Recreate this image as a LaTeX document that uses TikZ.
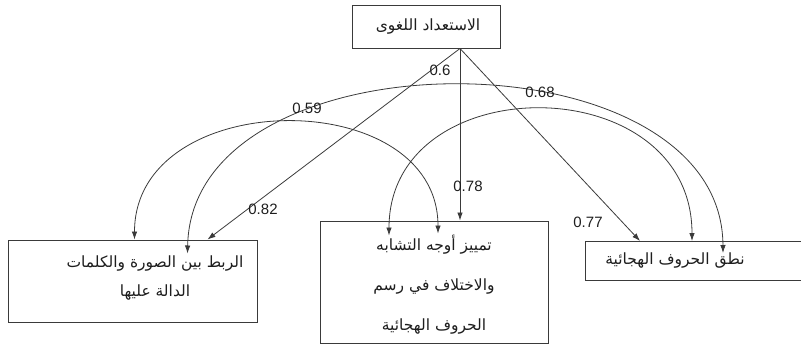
\documentclass[tikz,border=0pt]{standalone}
\usepackage{fontspec}
\setmainfont{Liberation Sans}
\newfontfamily\arabicfont[Script=Arabic]{DejaVu Sans}
\TeXXeTstate=1
\usepackage{xcolor}
\usetikzlibrary{arrows.meta,calc}

\definecolor{linegray}{HTML}{3A3A3A}
\definecolor{inkgray}{HTML}{1E1E1E}

\tikzset{
  box/.style={draw=linegray, line width=1pt, inner sep=0pt},
  artext/.style={font=\arabicfont\fontsize{15.5}{29}\selectfont, text=inkgray, align=center, inner sep=0pt},
  coef/.style={font=\fontsize{15}{17}\selectfont, text=inkgray, inner sep=0pt},
  effect/.style={draw=linegray, line width=0.8pt, -{Latex[length=8pt,width=5.5pt]}},
  corr/.style={draw=linegray, line width=0.8pt, {Latex[length=8pt,width=5.5pt]}-{Latex[length=8pt,width=5.5pt]}},
}

\begin{document}
\begin{tikzpicture}[x=1pt,y=-1pt]
\useasboundingbox (0,0) rectangle (801,346);

% latent factor on top
\node[box, minimum width=148pt, minimum height=43pt] (top) at (426,26.5) {};
\node[artext] (toptxt) at (428,27) {\beginR الاستعداد اللغوى\endR};
\coordinate (src) at ([xshift=34pt]top.south);

% the three indicators
\node[box, minimum width=249pt, minimum height=82pt] (lft) at (132.5,281) {};
\node[artext] (lfttxt) at (155,277.5)
  {\beginR الربط بين الصورة والكلمات\endR\\\beginR الدالة عليها\endR};

\node[box, minimum width=228pt, minimum height=122pt] (mid) at (434,282) {};
\node[artext, font=\arabicfont\fontsize{15.5}{40}\selectfont] (midtxt) at (434,285)
  {\beginR تمييز أوجه التشابه\endR\\\beginR والاختلاف في رسم\endR\\\beginR الحروف الهجائية\endR};

% right box runs off the page edge
\coordinate (rtop) at (585,241);
\draw[linegray, line width=1pt] (801,241) -| (585,280) -- (801,280);
\node[artext] (rgt) at (675,261) {\beginR نطق الحروف الهجائية\endR};

% loadings
\draw[effect] (src) -- ([xshift=-50pt]lft.north east);
\draw[effect] (src) -- (src |- mid.north);
\draw[effect] (src) -- ([xshift=55pt]rtop);

% correlations between indicators
\draw[corr] ([xshift=127pt]lft.north west) .. controls +(0,-154) and +(0,-150) .. ([xshift=4pt,yshift=-13pt]mid.north);
\draw[corr] ([xshift=180pt,yshift=-14pt]lft.north west) .. controls +(4,-224) and +(-1,-223) .. ([xshift=138pt,yshift=-12pt]rtop);
\draw[corr] ([xshift=-45pt,yshift=-15pt]mid.north) .. controls +(0,-169) and +(0,-174) .. ([xshift=107pt]rtop);

% coefficients
\foreach \val/\px/\py/\nm in {0.59/307/108/kA, 0.6/440/70/kB, 0.68/540/92/kC,
                              0.82/263/209/kL, 0.78/468/186/kM, 0.77/588/222/kR}
  \node[coef] (\nm) at (\px,\py) {\val};

\end{tikzpicture}
\end{document}
